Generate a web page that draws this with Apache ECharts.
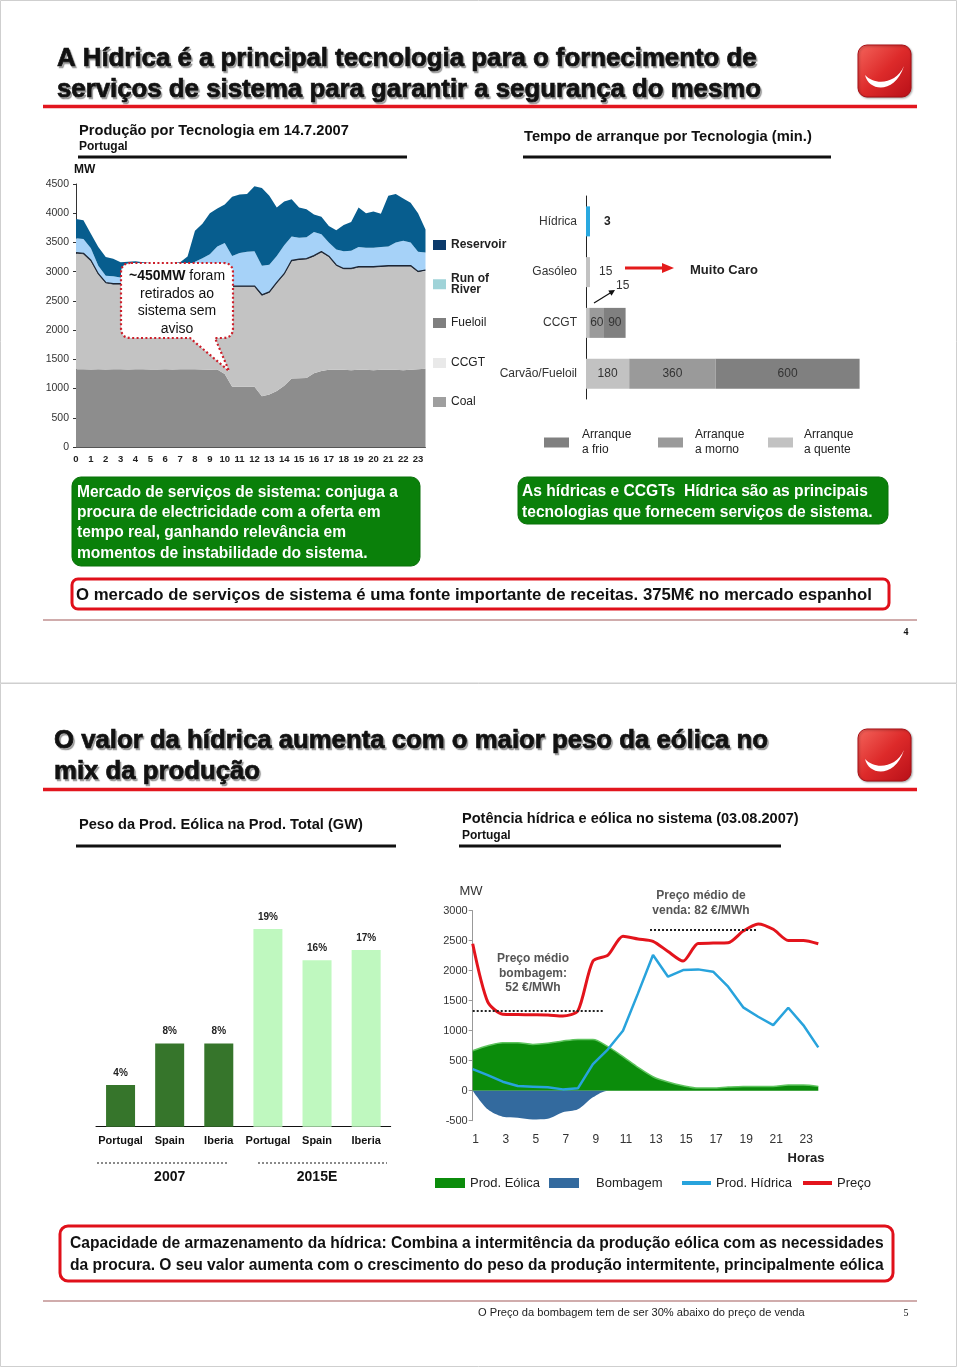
<!DOCTYPE html>
<html><head><meta charset="utf-8">
<script src="https://cdn.jsdelivr.net/npm/echarts@6/dist/echarts.min.js"></script>
<style>html,body{margin:0;padding:0;background:#fff}#c{width:960px;height:1367px}</style>
</head><body><div id="c"></div>
<script>
// ---------- Chart 1: Produção por Tecnologia em 14.7.2007 (MW, half-hourly) ----------
const hours1 = [0,0.5,1,1.5,2,2.5,3,3.5,4,4.5,5,5.5,6,6.5,7,7.5,8,8.5,9,9.5,10,10.5,11,11.5,12,12.5,13,13.5,14,14.5,15,15.5,16,16.5,17,17.5,18,18.5,19,19.5,20,20.5,21,21.5,22,22.5,23,23.5];
const coal = [1330,1330,1325,1330,1325,1330,1330,1325,1330,1330,1325,1325,1330,1325,1330,1330,1330,1325,1320,1325,1250,1030,1030,1030,1030,870,900,960,1050,1170,1175,1180,1260,1300,1320,1320,1320,1315,1320,1320,1315,1320,1320,1320,1315,1320,1330,1340];
const ccgt = [1980,1970,1855,1620,1475,1450,1450,1435,1430,1430,1435,1435,1430,1435,1430,1430,1430,1435,1440,1430,1505,1710,1710,1710,1710,1720,1740,1840,1900,2010,2025,2030,2000,2030,1930,1780,1720,1725,1750,1750,1755,1760,1770,1770,1775,1770,1660,1670];
const fueloil = [15,15,15,15,15,15,15,15,15,15,15,15,15,15,15,15,15,15,15,15,15,15,15,15,15,15,15,15,15,15,15,15,15,15,15,15,15,15,15,15,15,15,15,15,15,15,15,15];
const runOfRiver = [245,245,205,135,115,125,105,125,125,125,125,125,125,125,125,175,395,455,525,660,720,515,565,585,595,495,465,455,485,405,365,365,405,295,235,265,295,305,335,325,325,325,325,395,425,395,335,305];
const reservoir = [330,320,250,320,320,300,260,270,280,260,250,250,250,250,260,310,530,590,700,650,660,1010,1000,990,1110,1330,1180,830,750,640,520,480,300,300,280,330,450,490,680,590,620,570,870,830,720,680,660,390];

// ---------- Chart 2: Tempo de arranque por Tecnologia (min.) ----------
const techs = ['Hídrica','Gasóleo','CCGT','Carvão/Fueloil'];
const startHot = [3,15,15,180];
const startWarm = [null,null,60,360];
const startCold = [null,null,90,600];

// ---------- Chart 3: Peso da Prod. Eólica na Prod. Total ----------
const windCats = ['Portugal','Spain','Iberia','Portugal','Spain','Iberia'];
const windGroups = ['2007','2015E'];
const windShare = [4,8,8,19,16,17];

// ---------- Chart 4: Potência hídrica e eólica no sistema (03.08.2007) ----------
const hours2 = [1,2,3,4,5,6,7,8,9,10,11,12,13,14,15,16,17,18,19,20,21,22,23,24];
const windProd = [667,750,800,800,772,789,828,855,855,733,567,389,233,144,83,44,44,61,72,72,72,94,94,72];
const pumping = [0,-311,-433,-450,-478,-467,-361,-311,-111,0,0,0,0,0,0,0,0,0,0,0,0,0,0,0];
const hydroProd = [361,261,150,78,67,56,22,39,444,690,1000,1622,2261,1900,2011,2022,1983,1733,1389,1233,1094,1383,1094,722];
const price = [2450,1480,1275,1270,1265,1260,1245,1330,2160,2260,2575,2530,2490,2320,2160,2455,2460,2465,2660,2780,2690,2505,2505,2450];
const pumpAvg = [[1,1333],[9.7,1333]];
const sellAvg = [[12.8,2678],[19.9,2678]];

const FF = '"Liberation Sans", Arial, sans-serif';

// custom decorative shapes
echarts.graphic.registerShape('edpSmile', echarts.graphic.extendShape({
  shape:{},
  buildPath(ctx){ ctx.moveTo(7,30); ctx.bezierCurveTo(11,47,37,49,46,21); ctx.bezierCurveTo(38,39,17,41,7,30); ctx.closePath(); }
}));
echarts.graphic.registerShape('calloutBubble', echarts.graphic.extendShape({
  shape:{},
  buildPath(ctx){
    ctx.moveTo(131,263); ctx.lineTo(223,263); ctx.quadraticCurveTo(233,263,233,273);
    ctx.lineTo(233,328); ctx.quadraticCurveTo(233,338,223,338); ctx.lineTo(215,338);
    ctx.lineTo(229,371); ctx.lineTo(190,338); ctx.lineTo(131,338);
    ctx.quadraticCurveTo(121,338,121,328); ctx.lineTo(121,273); ctx.quadraticCurveTo(121,263,131,263); ctx.closePath();
  }
}));

const mctx = document.createElement('canvas').getContext('2d');
function fit(text, weight, width) { mctx.font = weight + ' 100px ' + FF; return 100 * width / mctx.measureText(text).width; }
function txt(x, y, text, size, weight, opt) {
  opt = opt || {};
  return { type:'text', z: opt.z || 20, style: Object.assign({ text, x, y, fill: opt.fill || '#111', font: (weight||'normal') + ' ' + size.toFixed(2) + 'px ' + (opt.family || FF), verticalAlign:'middle', align: opt.align || 'left', lineHeight: opt.lineHeight }, opt.style || {}) };
}
function hline(x1, x2, y, w, color, dash) {
  return { type:'line', z: 20, shape:{x1, y1:y, x2, y2:y}, style:{ stroke: color, lineWidth: w, lineDash: dash } };
}
function logo(x, y) {
  return { type:'group', x, y, z: 20, children:[
    { type:'rect', shape:{x:0,y:0,width:53,height:52,r:9}, style:{ fill: new echarts.graphic.LinearGradient(0,0,1,1,[{offset:0,color:'#f4655c'},{offset:0.5,color:'#dd2a2a'},{offset:1,color:'#b80f18'}]), stroke:'#a80e15', lineWidth:1, shadowColor:'rgba(0,0,0,0.3)', shadowBlur:2, shadowOffsetX:1, shadowOffsetY:1 } },
    { type:'edpSmile', shape:{}, style:{ fill:'#fff' } }
  ]};
}

const t1a = 'A Hídrica é a principal tecnologia para o fornecimento de';
const t1b = 'serviços de sistema para garantir a segurança do mesmo';
const t2a = 'O valor da hídrica aumenta com o maior peso da eólica no';
const t2b = 'mix da produção';
const titleSize1 = fit(t1a, 'bold', 700);
const titleSize2 = fit(t2a, 'bold', 714);
const titleStyle = { textShadowColor:'rgba(0,0,0,0.35)', textShadowOffsetX:1.5, textShadowOffsetY:1.5, textShadowBlur:1, stroke:'#111', lineWidth:0.7 };

const g1 = ['Mercado de serviços de sistema: conjuga a','procura de electricidade com a oferta em','tempo real, ganhando relevância em','momentos de instabilidade do sistema.'];
const g2 = ['As hídricas e CCGTs  Hídrica são as principais','tecnologias que fornecem serviços de sistema.'];
const r1 = 'O mercado de serviços de sistema é uma fonte importante de receitas. 375M€ no mercado espanhol';
const r2 = ['Capacidade de armazenamento da hídrica: Combina a intermitência da produção eólica com as necessidades','da procura. O seu valor aumenta com o crescimento do peso da produção intermitente, principalmente eólica'];
const gSize = fit(g1[0], 'bold', 321);
const g2Size = fit(g2[0], 'bold', 346);
const r1Size = fit(r1, 'bold', 796);
const r2Size = fit(r2[0], 'bold', 814);

const graphics = [
  { type:'rect', z:1, shape:{x:0.5,y:0.5,width:956,height:682.5}, style:{fill:'none', stroke:'#cfcfcf', lineWidth:1} },
  { type:'rect', z:1, shape:{x:0.5,y:683.5,width:956,height:683}, style:{fill:'none', stroke:'#cfcfcf', lineWidth:1} },
  // slide 1 header
  txt(57, 59, t1a, titleSize1, 'bold', {style: titleStyle}),
  txt(57, 90, t1b, titleSize1, 'bold', {style: titleStyle}),
  hline(43, 917, 106.5, 3.5, '#e2161e'),
  logo(858, 45),
  txt(79, 131, 'Produção por Tecnologia em 14.7.2007', fit('Produção por Tecnologia em 14.7.2007','bold',270), 'bold'),
  txt(79, 147, 'Portugal', 12, 'bold'),
  hline(78, 407, 157, 3, '#111'),
  txt(524, 137, 'Tempo de arranque por Tecnologia (min.)', fit('Tempo de arranque por Tecnologia (min.)','bold',288), 'bold'),
  hline(523, 831, 157, 3, '#111'),
  txt(74, 170, 'MW', 12, 'bold'),
  // bubble
  { type:'calloutBubble', z:50, shape:{}, style:{ fill:'#fff', stroke:'#cc1f2a', lineWidth:2.2, lineDash:[2,2.4] } },
  { type:'text', z:51, style:{ text:'{b|~450MW} foram\nretirados ao\nsistema sem\naviso', x:177, y:302.5, align:'center', verticalAlign:'middle', font:'14px ' + FF, fill:'#111', lineHeight:17.7, rich:{ b:{ fontWeight:'bold', fontSize:14, fontFamily:FF, fill:'#111', lineHeight:17.7 } } } },
  // chart 2 annotations
  { type:'line', z:30, shape:{x1:594,y1:303,x2:611,y2:292.5}, style:{stroke:'#111', lineWidth:1.2} },
  { type:'polygon', z:30, shape:{points:[[615,290],[611.5,295.7],[608.3,290.6]]}, style:{fill:'#111'} },
  { type:'line', z:30, shape:{x1:625,y1:268,x2:663,y2:268}, style:{stroke:'#e41b1b', lineWidth:3} },
  { type:'polygon', z:30, shape:{points:[[674,268],[662,263],[662,273]]}, style:{fill:'#e41b1b'} },
  txt(690, 270, 'Muito Caro', 13, 'bold', {fill:'#222'}),
  // green boxes
  { type:'rect', z:10, shape:{x:72,y:477,width:348,height:89,r:9}, style:{fill:'#0a800a', stroke:'#087008', lineWidth:1} },
  txt(77, 523, g1.join('\n'), gSize, 'bold', {fill:'#fff', lineHeight:20.4}),
  { type:'rect', z:10, shape:{x:518,y:477,width:370,height:47,r:9}, style:{fill:'#0a800a', stroke:'#087008', lineWidth:1} },
  txt(522, 502, g2.join('\n'), g2Size, 'bold', {fill:'#fff', lineHeight:20.4}),
  { type:'rect', z:10, shape:{x:72,y:579,width:817,height:30,r:6}, style:{fill:'#fff', stroke:'#e0101a', lineWidth:3} },
  txt(76, 595, r1, r1Size, 'bold'),
  hline(43, 917, 620, 1.5, '#c09090'),
  txt(906, 632, '4', 10, 'bold', {family:'"Liberation Serif", serif', align:'center'}),
  // slide 2 header
  txt(54, 741, t2a, titleSize2, 'bold', {style: titleStyle}),
  txt(54, 772, t2b, titleSize2, 'bold', {style: titleStyle}),
  hline(43, 917, 789.5, 3.5, '#e2161e'),
  logo(858, 729),
  txt(79, 825, 'Peso da Prod. Eólica na Prod. Total (GW)', fit('Peso da Prod. Eólica na Prod. Total (GW)','bold',284), 'bold'),
  hline(76, 396, 846, 3, '#111'),
  txt(462, 819, 'Potência hídrica e eólica no sistema (03.08.2007)', fit('Potência hídrica e eólica no sistema (03.08.2007)','bold',337), 'bold'),
  txt(462, 836, 'Portugal', 12, 'bold'),
  hline(459, 781, 846, 3, '#111'),
  // chart 3 group separators
  hline(97, 229, 1163, 2, '#8a8a8a', [2,2]),
  hline(258, 387, 1163, 2, '#8a8a8a', [2,2]),
  // chart 4 texts
  txt(471, 891, 'MW', 13, 'normal', {fill:'#333', align:'center'}),
  txt(806, 1158, 'Horas', 13, 'bold', {fill:'#222', align:'center'}),
  txt(533, 973.5, 'Preço médio\nbombagem:\n52 €/MWh', 12, 'bold', {fill:'#555', align:'center', lineHeight:14.6}),
  txt(701, 903, 'Preço médio de\nvenda: 82 €/MWh', 12, 'bold', {fill:'#555', align:'center', lineHeight:15}),
  // slide 2 bottom box
  { type:'rect', z:10, shape:{x:60,y:1226,width:833,height:55,r:8}, style:{fill:'#fff', stroke:'#e0101a', lineWidth:3} },
  txt(70, 1255, r2.join('\n'), r2Size, 'bold', {lineHeight:22}),
  hline(43, 917, 1301, 1.5, '#c09090'),
  txt(478, 1313, 'O Preço da bombagem tem de ser 30% abaixo do preço de venda', fit('O Preço da bombagem tem de ser 30% abaixo do preço de venda','normal',327), 'normal', {fill:'#222'}),
  txt(906, 1313, '5', 10, 'normal', {family:'"Liberation Serif", serif', align:'center'})
];

function leg(name, left, top, o) {
  o = o || {};
  return Object.assign({ left, top, padding:0, orient:'horizontal', selectedMode:false, icon:'rect',
    itemWidth: o.w || 13, itemHeight: o.h || 10,
    textStyle:{ fontFamily:FF, fontSize: o.fs || 12, color:'#222', lineHeight: o.lh || 12, padding: o.pad || 0 },
    formatter: o.fmt,
    data:[ { name, itemStyle: o.color ? { color:o.color } : undefined, textStyle: o.bold ? { fontWeight:'bold' } : undefined } ] });
}

const area = (name, data, color, extra) => Object.assign({
  name, type:'line', xAxisIndex:0, yAxisIndex:0, stack:'prod', data, symbol:'none',
  lineStyle:{ width:0 }, areaStyle:{ color, opacity:1 }, itemStyle:{ color }
}, extra || {});

const barLabel = { show:true, position:'inside', fontFamily:FF, fontSize:12, color:'#333' };
const plain = (v) => String(v);

const option = {
  animation:false,
  backgroundColor:'#fff',
  textStyle:{ fontFamily:FF },
  graphic: graphics,
  grid:[
    { left:76, top:184, width:349.5, height:263 },
    { left:586, top:196, width:288, height:203 },
    { left:96, top:918.7, width:294.7, height:208 },
    { left:472.7, top:910.7, width:345.6, height:210 }
  ],
  xAxis:[
    { gridIndex:0, type:'category', data:hours1, boundaryGap:false,
      axisLine:{ lineStyle:{ color:'#555' } }, axisTick:{ show:false },
      axisLabel:{ interval:(i)=> i % 2 === 0, fontSize:9.5, fontWeight:'bold', color:'#222', margin:7 } },
    { gridIndex:1, type:'value', min:0, max:1200, show:false },
    { gridIndex:2, type:'category', data:windCats,
      axisLine:{ lineStyle:{ color:'#111' } }, axisTick:{ length:4, lineStyle:{ color:'#111' } },
      axisLabel:{ fontSize:11, fontWeight:'bold', color:'#111', margin:9, interval:0 } },
    { gridIndex:2, type:'category', data:windGroups, position:'bottom', offset:35,
      axisLine:{ show:false }, axisTick:{ show:false },
      axisLabel:{ fontSize:14, fontWeight:'bold', color:'#111', margin:8 } },
    { gridIndex:3, type:'value', min:1, max:24, interval:2,
      axisLine:{ show:false }, axisTick:{ show:false }, splitLine:{ show:false },
      axisLabel:{ fontSize:12, color:'#333', margin:13, showMaxLabel:false, padding:[0,0,0,6], formatter: plain } }
  ],
  yAxis:[
    { gridIndex:0, type:'value', min:0, max:4500, interval:500,
      axisLine:{ show:true, lineStyle:{ color:'#333' } }, axisTick:{ show:true, length:3, lineStyle:{ color:'#333' } },
      splitLine:{ show:false }, axisLabel:{ fontSize:10.5, color:'#333', margin:7, formatter: plain } },
    { gridIndex:1, type:'category', data:techs, inverse:true,
      axisLine:{ lineStyle:{ color:'#222' } }, axisTick:{ length:4, lineStyle:{ color:'#222' } },
      axisLabel:{ fontSize:12, color:'#333', margin:9 } },
    { gridIndex:2, type:'value', min:0, max:20, show:false },
    { gridIndex:3, type:'value', min:-500, max:3000, interval:500,
      axisLine:{ show:true, lineStyle:{ color:'#999' } }, axisTick:{ show:true, length:4, lineStyle:{ color:'#999' } },
      splitLine:{ show:false }, axisLabel:{ fontSize:11, color:'#333', margin:5, formatter: plain } }
  ],
  legend:[
    leg('Reservoir', 433, 239, { bold:true, color:'#0b3a6b' }),
    leg('Run of River', 433, 273, { bold:true, color:'#9fd3d8', lh:10.5, fmt:()=> 'Run of\nRiver' }),
    leg('Fueloil', 433, 317, { color:'#7f7f7f' }),
    leg('CCGT', 433, 357, { color:'#e9e9e9' }),
    leg('Coal', 433, 396, { color:'#9f9f9f' }),
    leg('Arranque a frio', 544, 427.5, { w:25, h:10, lh:15, pad:[0,0,0,8], fmt:(n)=> n.replace(' a ', '\na ') }),
    leg('Arranque a morno', 658, 427.5, { w:25, h:10, lh:15, pad:[0,0,0,7], fmt:(n)=> n.replace(' a ', '\na ') }),
    leg('Arranque a quente', 768, 427.5, { w:25, h:10, lh:15, pad:[0,0,0,6], fmt:(n)=> n.replace(' a ', '\na ') }),
    leg('Prod. Eólica', 435, 1176, { w:30, h:10, fs:13, lh:14 }),
    leg('Bombagem', 549, 1176, { w:30, h:10, fs:13, lh:14, pad:[0,0,0,12] }),
    leg('Prod. Hídrica', 682, 1176, { w:29, h:4, fs:13, lh:14 }),
    leg('Preço', 803, 1176, { w:29, h:4, fs:13, lh:14 })
  ],
  series:[
    area('Coal', coal, '#8d8d8d'),
    area('CCGT', ccgt, '#c3c3c3'),
    area('Fueloil', fueloil, '#1c2533', { lineStyle:{ width:1.2, color:'#1c2533' } }),
    area('Run of River', runOfRiver, '#a6d2f8'),
    area('Reservoir', reservoir, '#075d8e'),

    { name:'Arranque a quente', type:'bar', xAxisIndex:1, yAxisIndex:1, stack:'arr', barWidth:30, barMinHeight:4,
      itemStyle:{ color:'#c2c2c2' },
      data: startHot.map((v,i)=> {
        if (i === 0) return { value:v, itemStyle:{ color:'#2aa9e0' }, label:{ show:true, position:'right', distance:14, fontWeight:'bold', fontSize:12, color:'#222' } };
        if (i === 1) return { value:v, label:{ show:true, position:'right', distance:9, fontSize:12, color:'#333' } };
        if (i === 2) return { value:v, label:{ show:true, position:'right', distance:26, offset:[0,-37], fontSize:12, color:'#333' } };
        return { value:v, label: barLabel };
      }) },
    { name:'Arranque a morno', type:'bar', xAxisIndex:1, yAxisIndex:1, stack:'arr', barWidth:30,
      itemStyle:{ color:'#9a9a9a' }, label: barLabel, data:startWarm },
    { name:'Arranque a frio', type:'bar', xAxisIndex:1, yAxisIndex:1, stack:'arr', barWidth:30,
      itemStyle:{ color:'#808080' }, label: barLabel, data:startCold },

    { name:'Peso eólica', type:'bar', xAxisIndex:2, yAxisIndex:2, barWidth:29,
      label:{ show:true, position:'top', distance:7, formatter:'{c}%', fontSize:10, fontWeight:'bold', color:'#222' },
      data: windShare.map((v,i)=> ({ value:v, itemStyle:{ color: i < 3 ? '#36752b' : '#bff8bf' } })) },

    { name:'Prod. Eólica', type:'line', xAxisIndex:4, yAxisIndex:3, symbol:'none', smooth:0.3,
      data: hours2.map((h,i)=> [h, windProd[i]]),
      itemStyle:{ color:'#0b8c0b' }, lineStyle:{ color:'#5fc45f', width:1.5 }, areaStyle:{ color:'#0b8c0b', opacity:1 } },
    { name:'Bombagem', type:'line', xAxisIndex:4, yAxisIndex:3, symbol:'none', smooth:0.3,
      data: hours2.map((h,i)=> [h, pumping[i]]),
      itemStyle:{ color:'#336a9e' }, lineStyle:{ width:0 }, areaStyle:{ color:'#336a9e', opacity:1 } },
    { name:'Prod. Hídrica', type:'line', xAxisIndex:4, yAxisIndex:3, symbol:'none',
      data: hours2.map((h,i)=> [h, hydroProd[i]]),
      itemStyle:{ color:'#28a3dc' }, lineStyle:{ color:'#28a3dc', width:2.5 } },
    { name:'Preço', type:'line', xAxisIndex:4, yAxisIndex:3, symbol:'none', smooth:0.25, clip:false,
      data: hours2.map((h,i)=> [h, price[i]]),
      itemStyle:{ color:'#e3141c' }, lineStyle:{ color:'#e3141c', width:3 },
      markLine:{ silent:true, symbol:['none','none'], label:{ show:false }, z:10,
        lineStyle:{ type:'dotted', color:'#222', width:2 },
        data:[ [ { coord: pumpAvg[0] }, { coord: pumpAvg[1] } ], [ { coord: sellAvg[0] }, { coord: sellAvg[1] } ] ] } }
  ]
};

const chart = echarts.init(document.getElementById('c'), null, { renderer:'canvas', width:960, height:1367 });
chart.setOption(option);
</script></body></html>
